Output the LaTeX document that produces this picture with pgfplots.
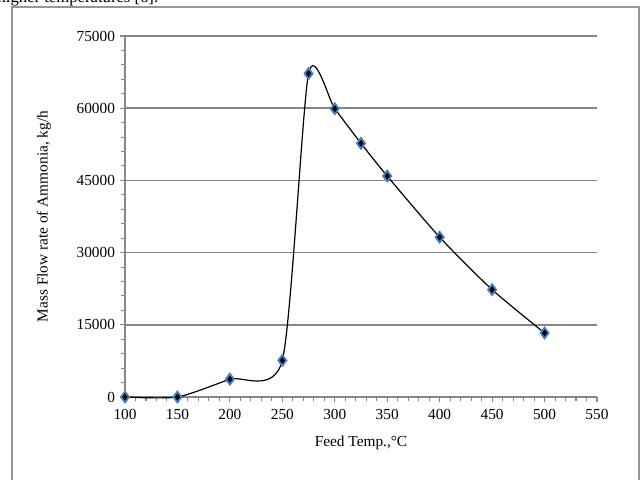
\documentclass[border=0pt]{standalone}
\usepackage{pgfplots}
\pgfplotsset{compat=1.18}
\usepackage{fontspec}
\setmainfont{Liberation Serif}
\definecolor{gridgray}{RGB}{134,134,134}
\definecolor{framegray}{RGB}{150,150,150}
\definecolor{mkblue}{RGB}{74,126,187}
\begin{document}
\begin{tikzpicture}
\path[use as bounding box] (0,0) rectangle (481.5pt,359.25pt);
\draw[framegray, line width=0.9pt] (9pt,-5pt) -- (9pt,354pt) -- (479.25pt,354pt) -- (479.25pt,-5pt);
\node[anchor=base west, inner sep=0pt, font=\fontsize{12.5}{14}\selectfont] at (-2pt,357.2pt) {higher temperatures [6].};
\begin{axis}[
  at={(93.75pt,61.5pt)}, anchor=south west,
  scale only axis, width=354pt, height=270.75pt,
  xmin=100, xmax=550, ymin=0, ymax=75000,
  xtick={100,150,...,550}, ytick={0,15000,...,75000},
  minor x tick num=4, minor y tick num=4,
  axis x line*=bottom, axis y line*=left,
  axis line style={gridgray, line width=1.1pt, -},
  major tick length=4pt, minor tick length=3pt,
  tick style={gridgray, line width=0.8pt},
  tick align=outside,
  ymajorgrids, major grid style={gridgray, line width=1.1pt},
  scaled y ticks=false,
  /pgf/number format/1000 sep={},
  /pgf/number format/assume math mode=true,
  tick label style={font=\fontsize{11.5}{13}\selectfont, black},
  xticklabel style={yshift=-2pt},
  label style={font=\fontsize{11.5}{13}\selectfont},
  xlabel={Feed Temp.,°C},
  ylabel={Mass Flow rate of Ammonia, kg/h},
  xlabel style={at={(axis description cs:0.5,-0.127)}, anchor=center},
  ylabel style={at={(axis description cs:-0.172,0.5)}, anchor=center},
  clip=false,
]
\addplot[black, line width=0.9pt, smooth, tension=0.4,
  mark=diamond*, mark size=4pt,
  mark options={fill=black, draw=mkblue, line width=1.4pt, solid}]
coordinates {
(100,0) (150,0) (200,3700) (250,7600) (275,67200) (300,59900)
(325,52700) (350,45900) (400,33200) (450,22300) (500,13300)
};
\end{axis}
\end{tikzpicture}
\end{document}
